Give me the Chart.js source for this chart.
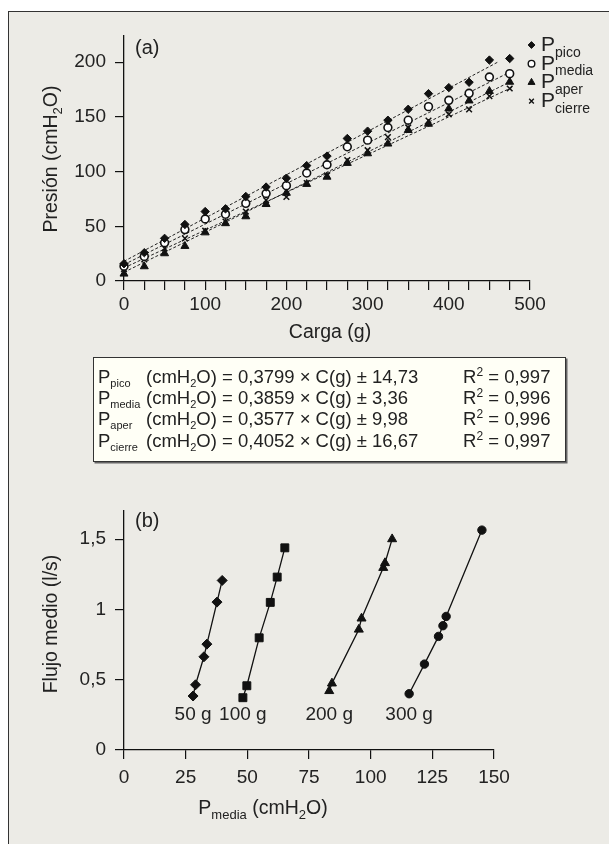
<!DOCTYPE html>
<html>
<head>
<meta charset="utf-8">
<script src="https://cdn.jsdelivr.net/npm/chart.js@4.4.1/dist/chart.umd.min.js"></script>
<style>
  body { margin: 0; width: 609px; height: 844px; overflow: hidden; background: #fff;
         font-family: "Liberation Sans", Arial, sans-serif; color: #222; }
  #frame { position: absolute; left: 8px; top: 11px; width: 620px; height: 850px;
           border-top: 1.5px solid #333; border-left: 1.5px solid #333; background: #ecebe6; }
  canvas { position: absolute; left: 0; top: 0; }
  #eqbox { position: absolute; left: 93px; top: 357px; width: 473px; height: 105px; box-sizing: border-box;
           background: #fffff6; border: 1.2px solid #333; box-shadow: 1.5px 1.5px 0 #666; }
  .row { position: absolute; left: 0; height: 21px; line-height: 21px; font-size: 18.5px; white-space: nowrap; }
  .c1 { position: absolute; left: 4px; }
  .c2 { position: absolute; left: 52px; }
  .c3 { position: absolute; left: 369px; }
  .sb { font-size: 11px; position: relative; top: 4px; }
  .sp { font-size: 12px; position: relative; top: -7px; }
</style>
</head>
<body>
<div id="frame"></div>
<canvas id="chartA" width="609" height="844"></canvas>
<canvas id="chartB" width="609" height="844"></canvas>
<div id="eqbox"></div>
<script>
// ---- panel (a): presión vs carga ----
const carga   = [0, 25, 50, 75, 100, 125, 150, 175, 200, 225, 250, 275, 300, 325, 350, 375, 400, 425, 450, 475];
const pPico   = [15.8, 25.9, 39, 51.7, 63.5, 66, 77.3, 85.9, 94, 105.5, 114.2, 130.3, 137, 147, 157, 171.3, 176.8, 181.7, 202, 203.4];
const pMedia  = [13.6, 22.5, 35, 47, 56.7, 61, 71, 80, 87.2, 98.7, 106.3, 122.7, 128.8, 140.3, 147, 159.4, 165.2, 171.6, 186.5, 189.6];
const pAper   = [6.6, 13.3, 25.2, 31.9, 44.3, 52.7, 59, 70.2, 80.5, 88.6, 95.2, 107.8, 116.6, 125.5, 137.9, 143.6, 157.6, 164.9, 173.6, 182];
const pCierre = [11, 19.7, 29.8, 39, 46, 54.3, 63.5, 73.9, 76.8, 89.6, 96.5, 110.5, 119.6, 131.5, 140.4, 146.6, 152.4, 156.9, 169, 176];

// dashed regression lines, end points
const fitPicoX  = [0, 460];
const fitPicoY  = [18, 200];
const fitOtroX  = [0, 478];
const fitMediaY = [15, 192];
const fitAperY  = [8, 183];
const fitCierreY = [12, 177];

const xLabelsA = ['0', '100', '200', '300', '400', '500'];
const serieNames = ['pico', 'media', 'aper', 'cierre'];

// equation box text
const eqSlope = ['0,3799', '0,3859', '0,3577', '0,4052'];
const eqInter = ['14,73', '3,36', '9,98', '16,67'];
const eqR2    = ['0,997', '0,996', '0,996', '0,997'];

// ---- panel (b): flujo vs P media ----
const groupLabels = ['50 g', '100 g', '200 g', '300 g'];
const f50x  = [28, 29, 32.4, 33.6, 37.7, 39.8];
const f50y  = [0.384, 0.464, 0.663, 0.753, 1.052, 1.206];
const f100x = [48.2, 49.8, 54.8, 59.3, 62.1, 65.2];
const f100y = [0.372, 0.457, 0.798, 1.05, 1.23, 1.438];
const f200x = [83.2, 84.3, 95.2, 96.3, 105.1, 105.8, 108.7];
const f200y = [0.42, 0.474, 0.857, 0.936, 1.296, 1.33, 1.5];
const f300x = [115.6, 121.8, 127.5, 129.3, 130.6, 145.1];
const f300y = [0.40, 0.611, 0.808, 0.884, 0.95, 1.564];
const yTickValsB = [0, 0.5, 1, 1.5];
const yTickTextB = ['0', '0,5', '1', '1,5'];

const FAM = '"Liberation Sans", Arial, sans-serif';
const INK = '#222';
const MARK = '#111';

const pts = (xs, ys) => xs.map((x, i) => ({ x: x, y: ys[i] }));

// text with subscript parts: parts = [[text, isSub], ...]
function rich(ctx, parts, x, y, size, align) {
  const sub = Math.round(size * 0.68);
  const widths = parts.map(p => {
    ctx.font = (p[1] ? sub : size) + 'px ' + FAM;
    return ctx.measureText(p[0]).width;
  });
  const total = widths.reduce((a, b) => a + b, 0);
  let cx = align === 'center' ? x - total / 2 : x;
  ctx.textAlign = 'left';
  ctx.textBaseline = 'alphabetic';
  ctx.fillStyle = INK;
  parts.forEach((p, i) => {
    ctx.font = (p[1] ? sub : size) + 'px ' + FAM;
    ctx.fillText(p[0], cx, p[1] ? y + size * 0.27 : y);
    cx += widths[i];
  });
}

const axisGrid = { display: true, drawOnChartArea: false, drawTicks: true, tickLength: 9, color: MARK, lineWidth: 1.2 };
const axisBorder = { display: true, color: MARK, width: 1.3 };
const tickFont = { family: FAM, size: 19 };

const styleA = [
  { pointStyle: 'rectRot', pointRadius: 4.2, backgroundColor: MARK, borderColor: MARK, borderWidth: 1 },
  { pointStyle: 'circle', pointRadius: 3.9, backgroundColor: '#fff', borderColor: MARK, borderWidth: 1.6 },
  { pointStyle: 'triangle', pointRadius: 4.6, backgroundColor: MARK, borderColor: MARK, borderWidth: 1 },
  { pointStyle: 'crossRot', pointRadius: 4, backgroundColor: MARK, borderColor: MARK, borderWidth: 1.5 }
];
const legendStyle = [
  { pointStyle: 'rectRot', radius: 3.4, borderWidth: 1, fill: MARK },
  { pointStyle: 'circle', radius: 3.3, borderWidth: 1.4, fill: '#fff' },
  { pointStyle: 'triangle', radius: 4, borderWidth: 1, fill: MARK },
  { pointStyle: 'crossRot', radius: 3.3, borderWidth: 1.4, fill: MARK }
];

const seriesA = [pPico, pMedia, pAper, pCierre];
const datasetsA = seriesA.map((s, i) => Object.assign({
  data: pts(carga, s), showLine: false, clip: false, order: 0
}, styleA[i]));

const fitLine = (xs, ys) => ({
  data: pts(xs, ys), showLine: true, pointRadius: 0, borderColor: '#222',
  borderWidth: 1, borderDash: [3, 2], clip: false, order: 5
});
datasetsA.push(fitLine(fitPicoX, fitPicoY), fitLine(fitOtroX, fitMediaY),
               fitLine(fitOtroX, fitAperY), fitLine(fitOtroX, fitCierreY));

const decorA = {
  id: 'decorA',
  afterDraw(chart) {
    const ctx = chart.ctx;
    ctx.save();
    rich(ctx, [['(a)']], 135, 54, 20, 'left');
    rich(ctx, [['Carga (g)']], 330, 338, 19.5, 'center');
    serieNames.forEach((n, i) => {
      const y = 45 + i * 18.7;
      const st = legendStyle[i];
      ctx.fillStyle = st.fill;
      ctx.strokeStyle = MARK;
      ctx.lineWidth = st.borderWidth;
      Chart.helpers.drawPoint(ctx, { pointStyle: st.pointStyle, radius: st.radius, borderWidth: st.borderWidth, rotation: 0 }, 531.5, y);
      rich(ctx, [['P'], [n, 1]], 541, y + 6, 21, 'left');
    });
    ctx.translate(50, 159);
    ctx.rotate(-Math.PI / 2);
    rich(ctx, [['Presión (cmH'], ['2', 1], ['O)']], 0, 7, 19.5, 'center');
    ctx.restore();
  }
};

new Chart(document.getElementById('chartA'), {
  type: 'scatter',
  data: { datasets: datasetsA },
  options: {
    responsive: false,
    animation: false,
    layout: { padding: { top: 36, right: 79, bottom: 844 - 350, left: 0 } },
    plugins: { legend: { display: false }, tooltip: { enabled: false } },
    scales: {
      x: {
        type: 'linear', min: 0, max: 500,
        afterFit: s => { s.height = 350 - 281; },
        grid: axisGrid, border: axisBorder,
        ticks: {
          stepSize: 25, autoSkip: false, maxRotation: 0, padding: 3, color: INK, font: tickFont,
          callback: v => xLabelsA.includes(String(v)) ? String(v) : ''
        }
      },
      y: {
        type: 'linear', min: 0, max: 224,
        afterFit: s => { s.width = 124; },
        grid: axisGrid, border: axisBorder,
        ticks: { stepSize: 50, includeBounds: false, padding: 9, color: INK, font: tickFont }
      }
    }
  },
  plugins: [decorA]
});

// panel (b)
const groupsB = [[f50x, f50y, 'rectRot', 5], [f100x, f100y, 'rect', 5.6], [f200x, f200y, 'triangle', 5.2], [f300x, f300y, 'circle', 4.2]];
const datasetsB = groupsB.map(g => ({
  data: pts(g[0], g[1]), showLine: true, clip: false,
  borderColor: MARK, borderWidth: 1.3,
  pointStyle: g[2], pointRadius: g[3], backgroundColor: MARK, pointBorderColor: MARK, pointBorderWidth: 1
}));

const decorB = {
  id: 'decorB',
  afterDraw(chart) {
    const ctx = chart.ctx;
    ctx.save();
    rich(ctx, [['(b)']], 135, 527, 20, 'left');
    const lows = chart.data.datasets.map((d, i) => chart.getDatasetMeta(i).data[0]);
    const base = Math.max(...lows.map(p => p.y)) + 22;
    lows.forEach((p, i) => rich(ctx, [[groupLabels[i]]], p.x, base, 19, 'center'));
    rich(ctx, [['P'], ['media', 1], [' (cmH'], ['2', 1], ['O)']], 263, 814, 19.5, 'center');
    ctx.translate(50, 624);
    ctx.rotate(-Math.PI / 2);
    rich(ctx, [['Flujo medio (l/s)']], 0, 7, 19.5, 'center');
    ctx.restore();
  }
};

new Chart(document.getElementById('chartB'), {
  type: 'scatter',
  data: { datasets: datasetsB },
  options: {
    responsive: false,
    animation: false,
    layout: { padding: { top: 511, right: 115, bottom: 0, left: 0 } },
    plugins: { legend: { display: false }, tooltip: { enabled: false } },
    scales: {
      x: {
        type: 'linear', min: 0, max: 150,
        afterFit: s => { s.height = 844 - 750; },
        grid: axisGrid, border: axisBorder,
        ticks: { stepSize: 25, autoSkip: false, maxRotation: 0, padding: 7, color: INK, font: tickFont }
      },
      y: {
        type: 'linear', min: 0, max: 1.7,
        afterFit: s => { s.width = 124; },
        grid: axisGrid, border: axisBorder,
        afterBuildTicks: s => { s.ticks = yTickValsB.map(v => ({ value: v })); },
        ticks: {
          padding: 9, color: INK, font: tickFont,
          callback: v => yTickTextB[yTickValsB.indexOf(v)]
        }
      }
    }
  },
  plugins: [decorB]
});

// equation box
const box = document.getElementById('eqbox');
serieNames.forEach((n, i) => {
  const row = document.createElement('div');
  row.className = 'row';
  row.style.top = (8 + i * 21.2) + 'px';
  row.innerHTML = '<span class="c1">P<span class="sb">' + n + '</span></span>' +
    '<span class="c2">(cmH<span class="sb">2</span>O) = ' + eqSlope[i] + ' × C(g) ± ' + eqInter[i] + '</span>' +
    '<span class="c3">R<span class="sp">2</span> = ' + eqR2[i] + '</span>';
  box.appendChild(row);
});
</script>
</body>
</html>
